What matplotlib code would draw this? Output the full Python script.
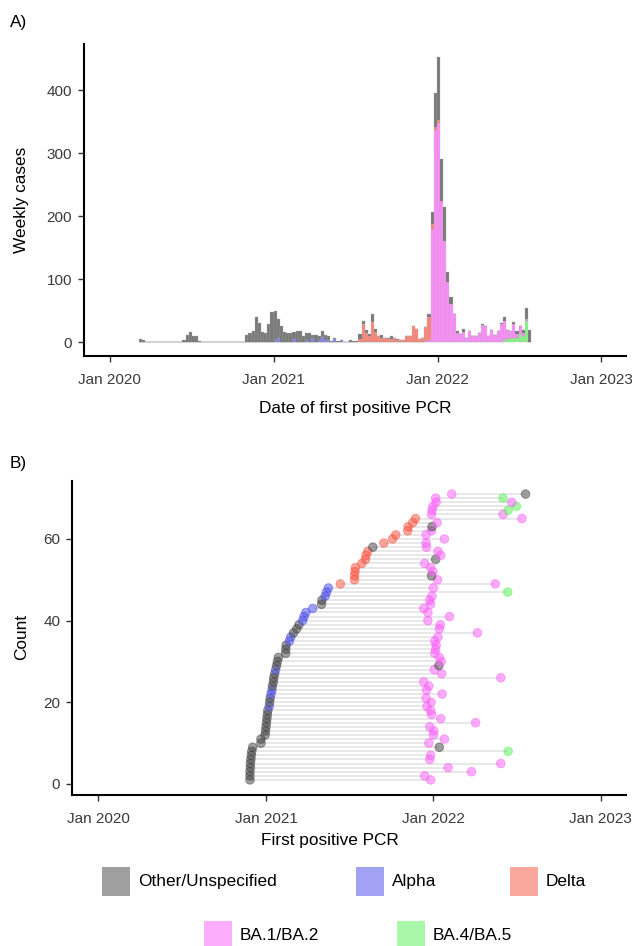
import matplotlib
matplotlib.use("Agg")
import matplotlib.pyplot as plt
from matplotlib.patches import Rectangle
import numpy as np
import pandas as pd

plt.rcParams['font.family'] = ['Liberation Sans', 'DejaVu Sans']

# ---------------- Panel A data: weekly cases by variant ----------------
week_start = "2020-03-09"
n_weeks = 125
variants = ["Other/Unspecified", "Alpha", "Delta", "BA.1/BA.2", "BA.4/BA.5"]

other = [5, 4, 0, 0, 0, 0, 0, 0, 0, 1, 0, 0, 0, 0, 3, 12, 16, 10, 10, 2,
         0, 0, 1, 0, 0, 1, 0, 1, 0, 0, 0, 1, 1, 1, 12, 15, 17, 40, 30, 16,
         15, 29, 48, 45, 31, 26, 16, 14, 14, 11, 17, 18, 10, 10, 14, 5, 11, 6, 10, 9,
         6, 2, 1, 2, 1, 1, 1, 4, 2, 2, 8, 6, 6, 3, 12, 5, 0, 5, 0, 2,
         5, 0, 1, 0, 0, 0, 0, 0, 0, 0, 0, 0, 5, 19, 54, 100, 66, 54, 17, 12,
         0, 4, 0, 5, 0, 0, 0, 0, 0, 2, 0, 0, 0, 0, 0, 2, 6, 0, 0, 3,
         5, 0, 6, 18, 20]
alpha = [0] * 43 + [4, 6, 0, 0, 0, 0, 5, 0, 0, 0, 4, 0, 7, 0, 4, 8, 3,
                    4, 0, 5, 0, 3] + [0] * 60
delta = [0] * 70 + [5, 28, 14, 10, 32, 16, 10, 7, 7, 5, 5, 7, 4, 4, 4, 10, 10, 26, 21, 5,
                    7, 22, 36, 9, 6, 4, 2] + [0] * 28
ba12 = [0] * 91 + [2, 4, 179, 336, 348, 222, 160, 95, 60, 44, 14, 13, 16, 6, 17, 10, 10, 15, 27,
                   26, 10, 19, 12, 17, 29, 30, 14, 10, 22, 7, 12, 5, 2, 0]
ba45 = [0] * 116 + [4, 5, 7, 7, 6, 13, 9, 34, 0]

# ---------------- Panel B data: first and second positive PCR ----------------
first_date = ["2020-11-27", "2020-11-27", "2020-11-27", "2020-11-28", "2020-11-28", "2020-11-29",
              "2020-11-30", "2020-12-01", "2020-12-03", "2020-12-21", "2020-12-21", "2020-12-30",
              "2020-12-31", "2021-01-01", "2021-01-02", "2021-01-03", "2021-01-04", "2021-01-05",
              "2021-01-08", "2021-01-09", "2021-01-10", "2021-01-12", "2021-01-14", "2021-01-15",
              "2021-01-17", "2021-01-18", "2021-01-20", "2021-01-22", "2021-01-24", "2021-01-26",
              "2021-01-28", "2021-02-13", "2021-02-13", "2021-02-14", "2021-02-21", "2021-02-24",
              "2021-03-02", "2021-03-09", "2021-03-14", "2021-03-22", "2021-03-25", "2021-03-29",
              "2021-04-13", "2021-05-02", "2021-05-03", "2021-05-10", "2021-05-13", "2021-05-17",
              "2021-06-12", "2021-07-13", "2021-07-13", "2021-07-14", "2021-07-15", "2021-07-29",
              "2021-08-06", "2021-08-07", "2021-08-11", "2021-08-22", "2021-09-15", "2021-10-04",
              "2021-10-11", "2021-11-06", "2021-11-07", "2021-11-17", "2021-11-23", "2021-12-28",
              "2021-12-29", "2021-12-31", "2022-01-07", "2022-01-06", "2022-02-10"]
first_variant = (["Other/Unspecified"] * 18 +
                 ["Alpha", "Other/Unspecified", "Other/Unspecified", "Alpha", "Alpha",
                  "Other/Unspecified", "Other/Unspecified", "Other/Unspecified", "Other/Unspecified",
                  "Alpha", "Other/Unspecified", "Other/Unspecified", "Other/Unspecified",
                  "Other/Unspecified", "Other/Unspecified", "Other/Unspecified", "Alpha", "Alpha",
                  "Other/Unspecified", "Other/Unspecified", "Other/Unspecified", "Alpha", "Alpha",
                  "Alpha", "Alpha", "Other/Unspecified", "Other/Unspecified", "Alpha", "Alpha",
                  "Alpha"] +
                 ["Delta"] * 9 + ["Other/Unspecified"] + ["Delta"] * 7 + ["BA.1/BA.2"] * 6)
second_date = ["2021-12-26", "2021-12-13", "2022-03-25", "2022-02-02", "2022-05-28", "2021-12-24",
               "2021-12-26", "2022-06-13", "2022-01-14", "2021-12-22", "2022-01-25", "2022-01-01",
               "2022-01-02", "2021-12-24", "2022-04-03", "2022-01-17", "2021-12-28", "2021-12-26",
               "2021-12-18", "2021-12-27", "2021-12-16", "2022-01-20", "2021-12-17", "2021-12-22",
               "2021-12-11", "2022-05-28", "2022-01-19", "2022-01-03", "2022-01-13", "2022-01-18",
               "2022-01-14", "2022-01-04", "2022-01-06", "2022-01-07", "2022-01-04", "2022-01-11",
               "2022-04-07", "2022-01-14", "2022-01-16", "2021-12-20", "2022-02-05", "2021-12-20",
               "2021-12-11", "2021-12-26", "2021-12-24", "2021-12-29", "2022-06-12", "2022-01-01",
               "2022-05-16", "2022-01-10", "2021-12-28", "2021-12-31", "2021-12-26", "2021-12-13",
               "2022-01-06", "2022-01-17", "2022-01-11", "2021-12-17", "2021-12-16", "2022-01-25",
               "2021-12-16", "2021-12-28", "2021-12-29", "2022-01-09", "2022-07-13", "2022-06-02",
               "2022-06-13", "2022-07-01", "2022-06-21", "2022-06-02", "2022-07-21"]
second_variant = ["BA.1/BA.2"] * 71
for i in (8, 28, 50, 54, 62, 70):
    second_variant[i] = "Other/Unspecified"
for i in (7, 46, 66, 67, 69):
    second_variant[i] = "BA.4/BA.5"

# ---------------- styling ----------------
base = {"Other/Unspecified": "#414141", "Alpha": "#4747EB", "Delta": "#FB513D",
        "BA.1/BA.2": "#FB5DF9", "BA.4/BA.5": "#55F155"}
tick_labels = ["Jan 2020", "Jan 2021", "Jan 2022", "Jan 2023"]
tick_dates = pd.to_datetime(["2020-01-01", "2021-01-01", "2022-01-01", "2023-01-01"])
xlim = (pd.Timestamp("2019-11-05"), pd.Timestamp("2023-02-25"))

W, H = 632, 946
fig = plt.figure(figsize=(W / 100, H / 100), dpi=100)

def fx(x):
    return x / W

def fy(y):
    return 1 - y / H

def style_axes(ax):
    for s in ("top", "right"):
        ax.spines[s].set_visible(False)
    for s in ("left", "bottom"):
        ax.spines[s].set_linewidth(1.5)
        ax.spines[s].set_color("black")
    ax.tick_params(axis="both", direction="out", length=4.5, width=1.0, color="#333333",
                   labelsize=11, labelcolor="#3a3a3a")
    ax.tick_params(axis="x", pad=8)
    ax.tick_params(axis="y", pad=4)
    ax.set_xticks(tick_dates)
    ax.set_xticklabels(tick_labels)
    ax.set_xlim(xlim)

# ---------------- Panel A ----------------
axA = fig.add_axes([fx(84), fy(356), (626 - 84) / W, (356 - 44) / H])
weeks = pd.date_range(week_start, periods=n_weeks, freq="7D")
series = {"BA.4/BA.5": ba45, "BA.1/BA.2": ba12, "Delta": delta, "Alpha": alpha,
          "Other/Unspecified": other}
bottom = np.zeros(n_weeks)
for v in ["BA.4/BA.5", "BA.1/BA.2", "Delta", "Alpha", "Other/Unspecified"]:
    vals = np.array(series[v], dtype=float)
    axA.bar(weeks, vals, width=7, bottom=bottom, align="center", color=base[v], alpha=0.7,
            edgecolor="#b0b0b0", linewidth=0.3)
    bottom += vals
axA.set_ylim(-22, 473)
axA.set_yticks([0, 100, 200, 300, 400])
style_axes(axA)

# ---------------- Panel B ----------------
axB = fig.add_axes([fx(72), fy(795), (626 - 72) / W, (795 - 481) / H])
count = np.arange(1, len(first_date) + 1)
fd = pd.to_datetime(first_date)
sd = pd.to_datetime(second_date)
for a, b, c in zip(fd, sd, count):
    axB.plot([a, b], [c, c], color="#e2e2e2", linewidth=1.1, zorder=1, solid_capstyle="butt")
axB.scatter(fd, count, s=38, c=[base[v] for v in first_variant], alpha=0.5,
            edgecolors=[base[v] for v in first_variant], linewidths=0.7, zorder=3)
axB.scatter(sd, count, s=38, c=[base[v] for v in second_variant], alpha=0.5,
            edgecolors=[base[v] for v in second_variant], linewidths=0.7, zorder=3)
axB.set_ylim(-2.7, 74.2)
axB.set_yticks([0, 20, 40, 60])
style_axes(axB)

# ---------------- texts ----------------
fs = 12.4
fig.text(fx(10), fy(22), "A)", fontsize=fs, va="center", ha="left")
fig.text(fx(10), fy(463), "B)", fontsize=fs, va="center", ha="left")
fig.text(fx(355), fy(408), "Date of first positive PCR", fontsize=fs, ha="center", va="center")
fig.text(fx(330), fy(840), "First positive PCR", fontsize=fs, ha="center", va="center")
fig.text(fx(22), fy(200), "Weekly cases", fontsize=fs, ha="center", va="center", rotation=90)
fig.text(fx(22), fy(637), "Count", fontsize=fs, ha="center", va="center", rotation=90)

# ---------------- legend ----------------
legend_pos = [(102, 881), (356, 881), (510, 881), (204, 935), (397, 935)]
for v, (x, y) in zip(variants, legend_pos):
    fig.add_artist(Rectangle((fx(x), fy(y + 14.5)), 28 / W, 29 / H, transform=fig.transFigure,
                             facecolor=base[v], alpha=0.5, edgecolor="none"))
    fig.text(fx(x + 36), fy(y), v, fontsize=fs, ha="left", va="center")

fig.savefig("out.png", dpi=100)
